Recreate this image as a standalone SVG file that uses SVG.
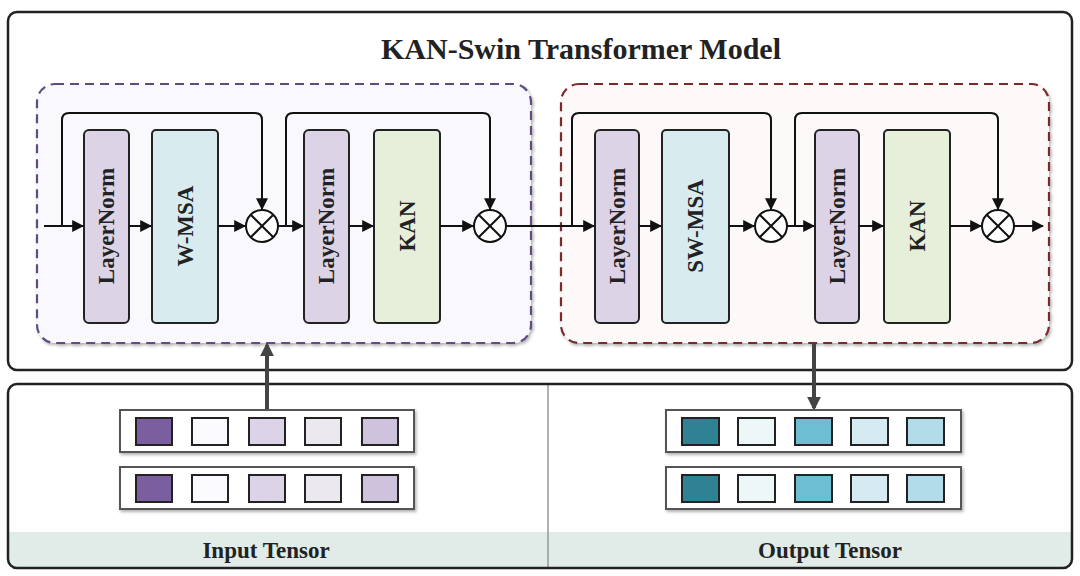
<svg xmlns="http://www.w3.org/2000/svg" width="1080" height="576" viewBox="0 0 1080 576">
<defs>
<marker id="ah" viewBox="0 0 10 10" refX="9" refY="5" markerWidth="6" markerHeight="6" orient="auto" markerUnits="strokeWidth">
<path d="M0,0 L10,5 L0,10 z" fill="#111"/>
</marker>
<marker id="ahg" viewBox="0 0 10 10" refX="8" refY="5" markerWidth="3.5" markerHeight="3.5" orient="auto" markerUnits="strokeWidth">
<path d="M0,0 L10,5 L0,10 z" fill="#444"/>
</marker>
<filter id="sh" x="-10%" y="-10%" width="120%" height="130%">
<feDropShadow dx="1.5" dy="2" stdDeviation="1.5" flood-color="#000" flood-opacity="0.3"/>
</filter>
</defs>
<style>
.blk{stroke:#222;stroke-width:2}
.ln{fill:#ddd3e6}.msa{fill:#d8ecf0}.kan{fill:#e6efd9}
.lbl{font-family:"Liberation Serif",serif;font-weight:bold;font-size:23px;fill:#222;text-anchor:middle;dominant-baseline:central}
.con{fill:none;stroke:#111;stroke-width:2}
.otimes{fill:#fff;stroke:#111;stroke-width:2}
.row{fill:#fff;stroke:#555;stroke-width:2}
.sq{stroke:#222;stroke-width:2}
.cap{font-family:"Liberation Serif",serif;font-weight:bold;font-size:23px;fill:#222;text-anchor:middle;dominant-baseline:central}
</style>

<rect x="8" y="12" width="1064" height="358" rx="9" fill="#fff" stroke="#222" stroke-width="2.5"/>
<text x="581" y="48" font-family="Liberation Serif, serif" font-weight="bold" font-size="30" fill="#222" text-anchor="middle" dominant-baseline="central">KAN-Swin Transformer Model</text>

<g id="bottom-panel">
<rect x="8" y="384" width="1064" height="184" rx="9" fill="#fff"/>
<path d="M8,532 H1072 V559 Q1072,568 1063,568 H17 Q8,568 8,559 Z" fill="#e1ece8"/>
<line x1="548" y1="384" x2="548" y2="568" stroke="#999" stroke-width="1.5"/>
<rect x="8" y="384" width="1064" height="184" rx="9" fill="none" stroke="#222" stroke-width="2.5"/>
</g>

<g id="group-wmsa">
<rect x="37" y="84" width="494" height="259" rx="18" fill="#f9f8fd" stroke="#5e4d82" stroke-width="2.2" stroke-dasharray="9,6" filter="url(#sh)"/>
</g>
<g id="group-swmsa">
<rect x="561" y="84" width="488" height="259" rx="18" fill="#fdf9f8" stroke="#7a2c2c" stroke-width="2.2" stroke-dasharray="9,6" filter="url(#sh)"/>
</g>

<g id="ln1"><rect class="blk ln" x="84" y="130" width="45" height="193" rx="5"/><text class="lbl" transform="translate(106.5,226) rotate(-90)">LayerNorm</text></g>
<g id="wmsa"><rect class="blk msa" x="152" y="130" width="66" height="193" rx="4"/><text class="lbl" transform="translate(185,226) rotate(-90)">W-MSA</text></g>
<g id="ln2"><rect class="blk ln" x="304" y="130" width="45" height="193" rx="5"/><text class="lbl" transform="translate(326.5,226) rotate(-90)">LayerNorm</text></g>
<g id="kan1"><rect class="blk kan" x="374" y="130" width="66" height="193" rx="4"/><text class="lbl" transform="translate(407,226) rotate(-90)">KAN</text></g>

<g id="ln3"><rect class="blk ln" x="595" y="130" width="44" height="193" rx="5"/><text class="lbl" transform="translate(617,226) rotate(-90)">LayerNorm</text></g>
<g id="swmsa"><rect class="blk msa" x="662" y="130" width="67" height="193" rx="4"/><text class="lbl" transform="translate(695.5,226) rotate(-90)">SW-MSA</text></g>
<g id="ln4"><rect class="blk ln" x="815" y="130" width="44" height="193" rx="5"/><text class="lbl" transform="translate(837,226) rotate(-90)">LayerNorm</text></g>
<g id="kan2"><rect class="blk kan" x="884" y="130" width="66" height="193" rx="4"/><text class="lbl" transform="translate(917,226) rotate(-90)">KAN</text></g>

<g id="mul1"><circle class="otimes" cx="262" cy="226" r="16"/><path class="con" d="M250.7,214.7 L273.3,237.3 M273.3,214.7 L250.7,237.3"/></g>
<g id="mul2"><circle class="otimes" cx="490" cy="226" r="16"/><path class="con" d="M478.7,214.7 L501.3,237.3 M501.3,214.7 L478.7,237.3"/></g>
<g id="mul3"><circle class="otimes" cx="771" cy="226" r="16"/><path class="con" d="M759.7,214.7 L782.3,237.3 M782.3,214.7 L759.7,237.3"/></g>
<g id="mul4"><circle class="otimes" cx="998" cy="226" r="16"/><path class="con" d="M986.7,214.7 L1009.3,237.3 M1009.3,214.7 L986.7,237.3"/></g>

<g id="connectors">
<path class="con" d="M44,226 H83" marker-end="url(#ah)"/>
<path class="con" d="M129,226 H151" marker-end="url(#ah)"/>
<path class="con" d="M218,226 H245" marker-end="url(#ah)"/>
<path class="con" d="M278,226 H303" marker-end="url(#ah)"/>
<path class="con" d="M349,226 H373" marker-end="url(#ah)"/>
<path class="con" d="M440,226 H473" marker-end="url(#ah)"/>
<path class="con" d="M506,226 H594" marker-end="url(#ah)"/>
<path class="con" d="M639,226 H661" marker-end="url(#ah)"/>
<path class="con" d="M729,226 H754" marker-end="url(#ah)"/>
<path class="con" d="M787,226 H814" marker-end="url(#ah)"/>
<path class="con" d="M859,226 H883" marker-end="url(#ah)"/>
<path class="con" d="M950,226 H981" marker-end="url(#ah)"/>
<path class="con" d="M1014,226 H1043" marker-end="url(#ah)"/>
<path class="con" d="M62,226 V120 Q62,113 69,113 H255 Q262,113 262,120 V209" marker-end="url(#ah)"/>
<path class="con" d="M286,226 V120 Q286,113 293,113 H483 Q490,113 490,120 V209" marker-end="url(#ah)"/>
<path class="con" d="M572,226 V120 Q572,113 579,113 H764 Q771,113 771,120 V209" marker-end="url(#ah)"/>
<path class="con" d="M795,226 V120 Q795,113 802,113 H991 Q998,113 998,120 V209" marker-end="url(#ah)"/>
<path d="M267,410 V345" fill="none" stroke="#444" stroke-width="4" marker-end="url(#ahg)"/>
<path d="M814,343 V408" fill="none" stroke="#444" stroke-width="4" marker-end="url(#ahg)"/>
</g>

<g id="input-tensor">
<rect class="row" x="120" y="410" width="294" height="42" filter="url(#sh)"/>
<rect class="sq" x="136" y="418" width="36" height="27" fill="#7b5ea0"/>
<rect class="sq" x="192" y="418" width="36" height="27" fill="#fbfaff"/>
<rect class="sq" x="249" y="418" width="36" height="27" fill="#ddd3e8"/>
<rect class="sq" x="305" y="418" width="36" height="27" fill="#ebe8f0"/>
<rect class="sq" x="362" y="418" width="36" height="27" fill="#cfc2dd"/>
<rect class="row" x="120" y="467" width="294" height="42" filter="url(#sh)"/>
<rect class="sq" x="136" y="475" width="36" height="27" fill="#7b5ea0"/>
<rect class="sq" x="192" y="475" width="36" height="27" fill="#fbfaff"/>
<rect class="sq" x="249" y="475" width="36" height="27" fill="#ddd3e8"/>
<rect class="sq" x="305" y="475" width="36" height="27" fill="#ebe8f0"/>
<rect class="sq" x="362" y="475" width="36" height="27" fill="#cfc2dd"/>
<text class="cap" x="266" y="550">Input Tensor</text>
</g>

<g id="output-tensor">
<rect class="row" x="666" y="410" width="295" height="42" filter="url(#sh)"/>
<rect class="sq" x="682" y="418" width="37" height="27" fill="#2f8293"/>
<rect class="sq" x="738" y="418" width="37" height="27" fill="#eef7f8"/>
<rect class="sq" x="795" y="418" width="37" height="27" fill="#6dbdd3"/>
<rect class="sq" x="851" y="418" width="37" height="27" fill="#d6eaf1"/>
<rect class="sq" x="907" y="418" width="37" height="27" fill="#b2dcea"/>
<rect class="row" x="666" y="467" width="295" height="42" filter="url(#sh)"/>
<rect class="sq" x="682" y="475" width="37" height="27" fill="#2f8293"/>
<rect class="sq" x="738" y="475" width="37" height="27" fill="#eef7f8"/>
<rect class="sq" x="795" y="475" width="37" height="27" fill="#6dbdd3"/>
<rect class="sq" x="851" y="475" width="37" height="27" fill="#d6eaf1"/>
<rect class="sq" x="907" y="475" width="37" height="27" fill="#b2dcea"/>
<text class="cap" x="830" y="550">Output Tensor</text>
</g>
</svg>
